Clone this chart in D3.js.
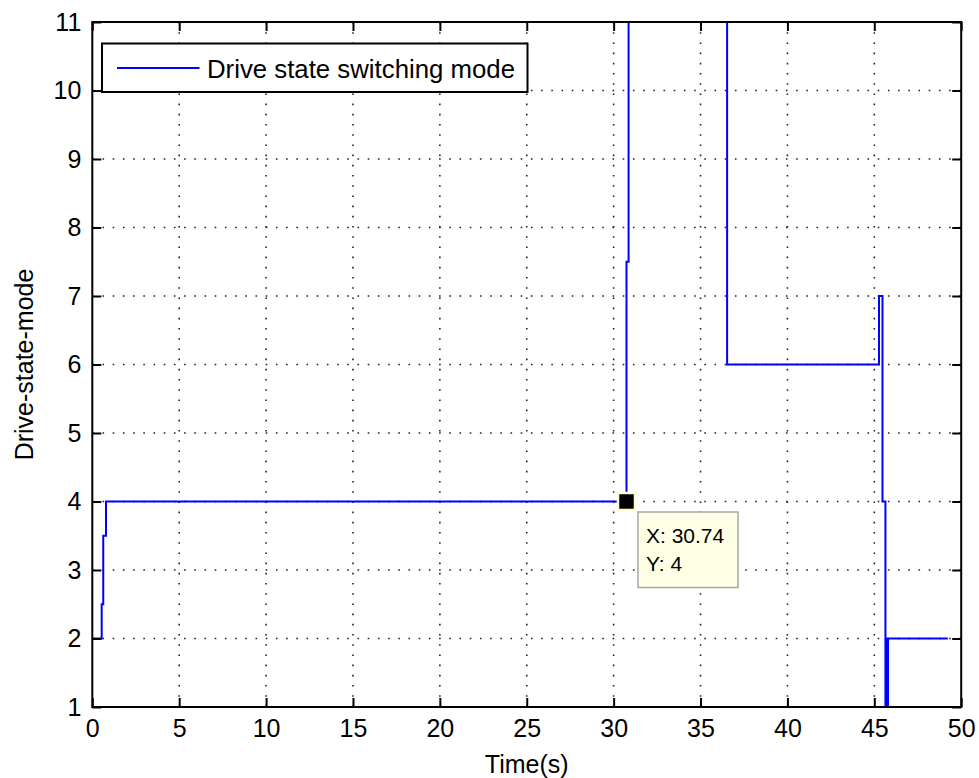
<!DOCTYPE html>
<html>
<head>
<meta charset="utf-8">
<script src="https://cdn.jsdelivr.net/npm/d3@7"></script>
<style>
  html, body { margin: 0; padding: 0; background: #fff; }
  svg { display: block; }
  text { font-family: "Liberation Sans", Arial, sans-serif; fill: #000; }
</style>
</head>
<body>
<svg id="chart" width="979" height="778"></svg>
<script>
// ---- data ----
const timeS = [0, 0.54, 0.63, 0.79, 30.74, 30.86, 36.53, 45.27, 45.47, 45.64, 45.70, 45.74, 45.79, 49.23];
const driveMode = [2, 2.5, 3.5, 4, 7.5, 12, 6, 7, 4, 1, 2, 1, 2, 2];
const xTicks = [0, 5, 10, 15, 20, 25, 30, 35, 40, 45, 50];
const yTicks = [1, 2, 3, 4, 5, 6, 7, 8, 9, 10, 11];
const seriesName = "Drive state switching mode";
const xLabel = "Time(s)";
const yLabel = "Drive-state-mode";
const dataTip = { x: 30.74, y: 4 };

// ---- layout ----
const svg = d3.select("#chart");
const L = 92.3, R = 961.2, T = 22, B = 707;
const x = d3.scaleLinear().domain([0, 50]).range([L, R]);
const y = d3.scaleLinear().domain([1, 11]).range([B, T]);

// grid
const grid = svg.append("g").attr("stroke", "#222").attr("stroke-width", 1.6)
  .attr("stroke-dasharray", "1.6,8.6").attr("fill", "none");
xTicks.filter(t => t > 0 && t < 50).forEach(t => {
  grid.append("line").attr("x1", x(t)).attr("x2", x(t)).attr("y1", B).attr("y2", T);
});
yTicks.filter(t => t > 1 && t < 11).forEach(t => {
  grid.append("line").attr("x1", L).attr("x2", R).attr("y1", y(t)).attr("y2", y(t));
});

// clip
svg.append("clipPath").attr("id", "clip").append("rect")
  .attr("x", L).attr("y", T).attr("width", R - L).attr("height", B - T);

// series
const pts = timeS.map((t, i) => [t, driveMode[i]]);
const line = d3.line().x(d => x(d[0])).y(d => y(d[1])).curve(d3.curveStepAfter);
svg.append("path").datum(pts).attr("clip-path", "url(#clip)")
  .attr("d", line).attr("fill", "none").attr("stroke", "#0000ff").attr("stroke-width", 2);

// axes (inner ticks on all sides)
const tickLen = 9;
const axB = svg.append("g").attr("transform", `translate(0,${B})`)
  .call(d3.axisBottom(x).tickValues(xTicks).tickSize(-tickLen).tickPadding(14).tickFormat(d3.format("d")));
const axT = svg.append("g").attr("transform", `translate(0,${T})`)
  .call(d3.axisTop(x).tickValues(xTicks).tickSize(-tickLen).tickFormat(""));
const axL = svg.append("g").attr("transform", `translate(${L},0)`)
  .call(d3.axisLeft(y).tickValues(yTicks).tickSize(-tickLen).tickPadding(12).tickFormat(d3.format("d")));
const axR = svg.append("g").attr("transform", `translate(${R},0)`)
  .call(d3.axisRight(y).tickValues(yTicks).tickSize(-tickLen).tickFormat(""));
[axB, axT, axL, axR].forEach(a => {
  a.select(".domain").remove();
  a.selectAll(".tick line").attr("stroke", "#000").attr("stroke-width", 2);
  a.selectAll("text").attr("font-size", 25).attr("font-family", "Liberation Sans, Arial, sans-serif").attr("fill", "#000");
});
axB.selectAll("text").attr("dy", "0.71em").attr("y", 12);
axL.selectAll("text").attr("x", -11);

// frame
svg.append("rect").attr("x", L).attr("y", T).attr("width", R - L).attr("height", B - T)
  .attr("fill", "none").attr("stroke", "#000").attr("stroke-width", 2);

// axis labels
svg.append("text").attr("x", (L + R) / 2).attr("y", 773).attr("text-anchor", "middle")
  .attr("font-size", 25).text(xLabel);
svg.append("text").attr("transform", `translate(33,${(T + B) / 2}) rotate(-90)`)
  .attr("text-anchor", "middle").attr("font-size", 25).text(yLabel);

// legend
const lg = svg.append("g");
lg.append("rect").attr("x", 102).attr("y", 43.5).attr("width", 425.5).attr("height", 48.5)
  .attr("fill", "#fff").attr("stroke", "#000").attr("stroke-width", 2);
lg.append("line").attr("x1", 117).attr("x2", 199.5).attr("y1", 68).attr("y2", 68)
  .attr("stroke", "#0000ff").attr("stroke-width", 2);
lg.append("text").attr("x", 207).attr("y", 77.5).attr("font-size", 25)
  .attr("textLength", 308).attr("lengthAdjust", "spacingAndGlyphs").text(seriesName);

// data tip
const tx = x(dataTip.x), ty = y(dataTip.y);
svg.append("rect").attr("x", tx - 8.5).attr("y", ty - 8.5).attr("width", 17).attr("height", 17)
  .attr("fill", "#000").attr("stroke", "#ffffd2").attr("stroke-width", 2.5);
const tip = svg.append("g");
tip.append("rect").attr("x", tx + 11.5).attr("y", ty + 10.5).attr("width", 100).attr("height", 75.5)
  .attr("fill", "#ffffe6").attr("stroke", "#a8a8a0").attr("stroke-width", 1.5);
tip.append("text").attr("x", tx + 19.5).attr("y", ty + 41).attr("font-size", 21)
  .text("X: " + d3.format(".2f")(dataTip.x));
tip.append("text").attr("x", tx + 19.5).attr("y", ty + 69).attr("font-size", 21)
  .text("Y: " + dataTip.y);
</script>
</body>
</html>
